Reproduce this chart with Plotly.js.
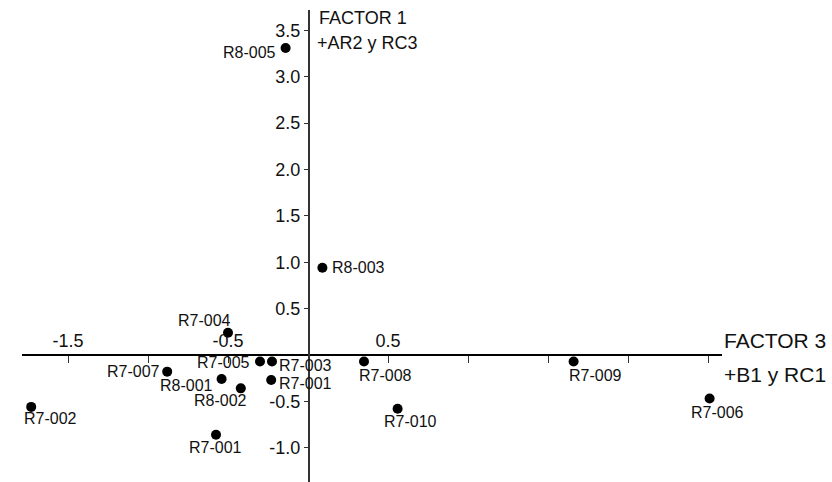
<!DOCTYPE html>
<html>
<head>
<meta charset="utf-8">
<script src="https://cdn.plot.ly/plotly-3.0.1.min.js"></script>
<style>html,body{margin:0;padding:0;background:#fff;}#chart{width:832px;height:482px;}</style>
</head>
<body>
<div id="chart"></div>
<script>
// ---- data ----
const labels  = ['R8-005','R8-003','R7-004','R7-005','R7-003','R7-001','R7-007','R8-001','R8-002','R7-002','R7-001','R7-008','R7-010','R7-009','R7-006'];
const factor3 = [-0.14, 0.09, -0.50, -0.30, -0.225, -0.23, -0.88, -0.54, -0.42, -1.73, -0.575, 0.35, 0.56, 1.66, 2.51];
const factor1 = [3.31, 0.94, 0.24, -0.07, -0.07, -0.27, -0.18, -0.26, -0.36, -0.56, -0.86, -0.07, -0.58, -0.07, -0.47];
const xTickVals = [-1.5, -1.0, -0.5, 0.5, 1.0, 1.5, 2.0, 2.5];
const xTickText = ['-1.5', '', '-0.5', '0.5', '', '', '', ''];
const yTickVals = [3.5, 3.0, 2.5, 2.0, 1.5, 1.0, 0.5, -0.5, -1.0];
const yTickText = ['3.5', '3.0', '2.5', '2.0', '1.5', '1.0', '0.5', '-0.5', '-1.0'];

// ---- label placement (style) ----
const labelStyle = [
  ['right', -8, -4], ['left', 8, 0], ['center', -24, 12], ['right', -8, -1],
  ['left', 5, -4], ['left', 6, -3], ['right', -5, 0], ['right', -7, -6],
  ['center', -20, -12], ['center', 19, -12], ['center', -1, -13], ['center', 21, -14],
  ['center', 13, -13], ['center', 22, -14], ['center', 8, -14]
];

const xRange = [-1.7875, 2.5875];
const yRange = [-1.37, 3.72];
const font = 'Liberation Sans, Arial, sans-serif';

const annotations = labels.map((t, i) => ({
  x: factor3[i], y: factor1[i], xref: 'x', yref: 'y', text: t, showarrow: false,
  xanchor: labelStyle[i][0], yanchor: 'middle', xshift: labelStyle[i][1], yshift: labelStyle[i][2],
  font: {family: font, size: 16, color: '#111'}
}));
annotations.push(
  {x: 0, y: 1, xref: 'x', yref: 'paper', text: 'FACTOR 1', showarrow: false, xanchor: 'left', yanchor: 'middle', xshift: 9, yshift: -8, font: {family: font, size: 18, color: '#111'}},
  {x: 0, y: 1, xref: 'x', yref: 'paper', text: '+AR2 y RC3', showarrow: false, xanchor: 'left', yanchor: 'middle', xshift: 7, yshift: -33, font: {family: font, size: 18, color: '#111'}},
  {x: 1, y: 0, xref: 'paper', yref: 'y', text: 'FACTOR 3', showarrow: false, xanchor: 'left', yanchor: 'middle', xshift: 0, yshift: 14, font: {family: font, size: 21, color: '#111'}},
  {x: 1, y: 0, xref: 'paper', yref: 'y', text: '+B1 y RC1', showarrow: false, xanchor: 'left', yanchor: 'middle', xshift: 0, yshift: -20, font: {family: font, size: 21, color: '#111'}}
);

const trace = {
  x: factor3, y: factor1, mode: 'markers', type: 'scatter',
  marker: {color: '#000', size: 10}, hoverinfo: 'skip'
};

const layout = {
  width: 832, height: 482,
  margin: {l: 22, r: 110, t: 10, b: 0},
  paper_bgcolor: '#fff', plot_bgcolor: '#fff',
  showlegend: false,
  font: {family: font, color: '#111'},
  xaxis: {
    range: xRange, showgrid: false, zeroline: false,
    showline: true, linecolor: '#000', linewidth: 2,
    anchor: 'free', position: (0 - yRange[0]) / (yRange[1] - yRange[0]),
    side: 'top', ticks: 'inside', ticklen: 7, tickwidth: 1, tickcolor: '#333',
    tickmode: 'array', tickvals: xTickVals, ticktext: xTickText,
    tickfont: {family: font, size: 18, color: '#111'}
  },
  yaxis: {
    range: yRange, showgrid: false, zeroline: false,
    showline: true, linecolor: '#333', linewidth: 1.5,
    anchor: 'free', position: (0 - xRange[0]) / (xRange[1] - xRange[0]),
    ticks: 'outside', ticklen: 4, tickwidth: 1, tickcolor: '#333',
    tickmode: 'array', tickvals: yTickVals, ticktext: yTickText,
    tickfont: {family: font, size: 18, color: '#111'}
  },
  annotations: annotations
};

Plotly.newPlot('chart', [trace], layout, {staticPlot: true, displayModeBar: false});
</script>
</body>
</html>
